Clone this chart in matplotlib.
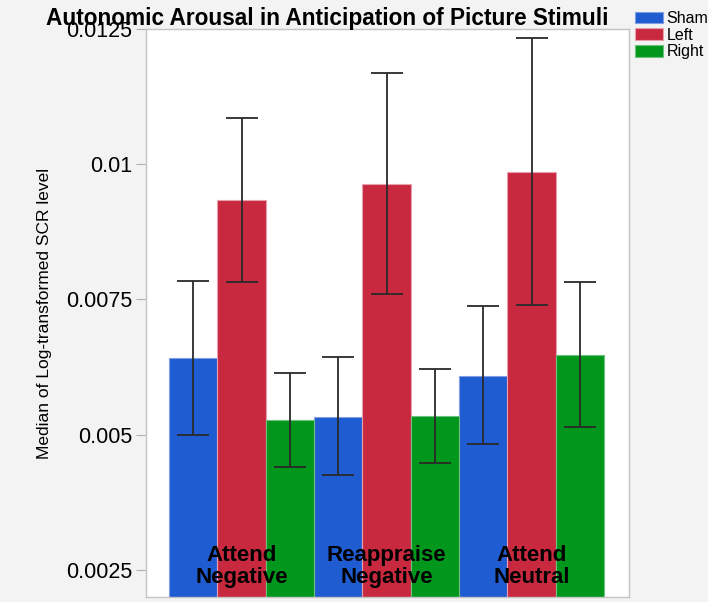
import numpy as np
from matplotlib import pyplot as plt

# medians and interval bounds per condition
conditions = ["Attend\nNegative", "Reappraise\nNegative", "Attend\nNeutral"]
groups = ["Sham", "Left", "Right"]
sham = [0.00641, 0.00533, 0.00609]
sham_lo = [0.00500, 0.00425, 0.00483]
sham_hi = [0.00784, 0.00643, 0.00738]
left = [0.00934, 0.00964, 0.00986]
left_lo = [0.00783, 0.00760, 0.00740]
left_hi = [0.01086, 0.01169, 0.01234]
right = [0.00527, 0.00534, 0.00648]
right_lo = [0.00440, 0.00447, 0.00515]
right_hi = [0.00615, 0.00622, 0.00782]
yticks = [0.0025, 0.005, 0.0075, 0.01, 0.0125]
ytick_labels = ["0.0025", "0.005", "0.0075", "0.01", "0.0125"]

colors = ["#1f5bd1", "#c8293f", "#01971c"]
edges = ["#7f9fe0", "#e8a0ae", "#6fc07f"]

plt.rcParams['font.family'] = ['Liberation Sans', 'DejaVu Sans']

fig = plt.figure(figsize=(7.08, 6.02), dpi=100, facecolor="#f3f3f3")
ax = fig.add_axes([146 / 708, 1 - 597 / 602, 483 / 708, 568 / 602])
ax.set_facecolor("white")

x = np.arange(len(conditions))
w = 1 / 3
series = [(sham, sham_lo, sham_hi), (left, left_lo, left_hi), (right, right_lo, right_hi)]
for i, (vals, lo, hi) in enumerate(series):
    vals = np.array(vals)
    err = [vals - np.array(lo), np.array(hi) - vals]
    pos = x + (i - 1) * w
    ax.bar(pos, vals, width=w, color=colors[i], edgecolor=edges[i],
           linewidth=0.8, label=groups[i], zorder=2)
    ax.errorbar(pos, vals, yerr=err, fmt="none", ecolor="#2a2a2a",
                elinewidth=1.3, capsize=11.5, capthick=1.3, zorder=3)

# condition names sit inside the bars near the bottom
for xi, name in zip(x, conditions):
    ax.text(xi, 0.00257, name, ha="center", va="center", fontsize=16,
            fontweight="bold", linespacing=1.05, zorder=4)

ax.set_xlim(-0.5 - 23 / 145, 2.5 + 25 / 145)
ax.set_ylim(0.002, 0.0125)
ax.set_xticks([])
ax.set_yticks(yticks)
ax.set_yticklabels(ytick_labels, fontsize=15.5)
ax.tick_params(axis="y", length=7, width=0.8, color="#b0b0b0", pad=3)
for s in ax.spines.values():
    s.set_color("#c4c4c4")
    s.set_linewidth(1.0)

ax.set_ylabel("Median of Log-transformed SCR level", fontsize=12.5)
ax.yaxis.set_label_coords(-0.194, 0.5)

fig.text(327 / 708, 1 - 18 / 602, "Autonomic Arousal in Anticipation of Picture Stimuli",
         ha="center", va="center", fontsize=16.3, fontweight="bold")

fig.legend(loc="upper left", bbox_to_anchor=(632 / 708, 1 - 8 / 602), frameon=False,
           fontsize=11.5, handlelength=1.75, handleheight=0.75, handletextpad=0.2,
           labelspacing=0.1, borderpad=0.2, borderaxespad=0)

fig.savefig("out.png", dpi=100, facecolor=fig.get_facecolor())
